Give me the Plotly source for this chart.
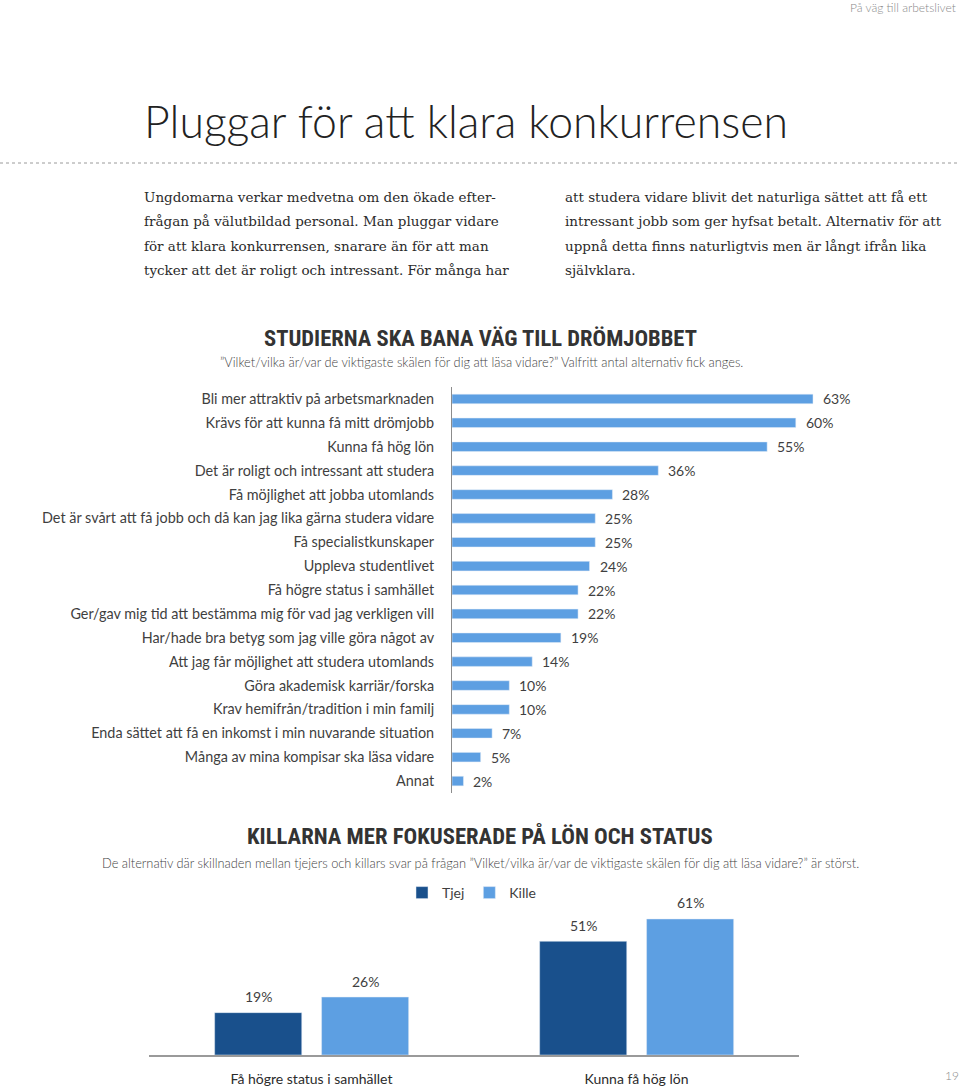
import plotly.graph_objects as go

# ---------------- data ----------------
reasons = [
    "Bli mer attraktiv på arbetsmarknaden",
    "Krävs för att kunna få mitt drömjobb",
    "Kunna få hög lön",
    "Det är roligt och intressant att studera",
    "Få möjlighet att jobba utomlands",
    "Det är svårt att få jobb och då kan jag lika gärna studera vidare",
    "Få specialistkunskaper",
    "Uppleva studentlivet",
    "Få högre status i samhället",
    "Ger/gav mig tid att bestämma mig för vad jag verkligen vill",
    "Har/hade bra betyg som jag ville göra något av",
    "Att jag får möjlighet att studera utomlands",
    "Göra akademisk karriär/forska",
    "Krav hemifrån/tradition i min familj",
    "Enda sättet att få en inkomst i min nuvarande situation",
    "Många av mina kompisar ska läsa vidare",
    "Annat",
]
reason_pct = [63, 60, 55, 36, 28, 25, 25, 24, 22, 22, 19, 14, 10, 10, 7, 5, 2]

gender_cats = ["Få högre status i samhället", "Kunna få hög lön"]
tjej_pct = [19, 51]
kille_pct = [26, 61]

left_par = [
    "Ungdomarna verkar medvetna om den ökade efter-",
    "frågan på välutbildad personal. Man pluggar vidare",
    "för att klara konkurrensen, snarare än för att man",
    "tycker att det är roligt och intressant. För många har",
]
right_par = [
    "att studera vidare blivit det naturliga sättet att få ett",
    "intressant jobb som ger hyfsat betalt. Alternativ för att",
    "uppnå detta finns naturligtvis men är långt ifrån lika",
    "självklara.",
]

# ---------------- style ----------------
W, H = 960, 1091
LIGHT = "#5d9fe2"
DARK = "#19508c"
TXT = "#3f3f3f"
SANS = "Lato, 'Open Sans', sans-serif"
SERIF = "'DejaVu Serif', 'Liberation Serif', serif"
COND = "'Roboto Condensed', 'Liberation Sans Narrow', Roboto, sans-serif"


def py(p):
    return 1 - p / H


def px(p):
    return p / W


fig = go.Figure()

# Chart 1: horizontal bars
fig.add_trace(go.Bar(
    x=reason_pct, y=reasons, orientation="h",
    marker_color=LIGHT, width=0.4, showlegend=False,
    xaxis="x", yaxis="y", hoverinfo="skip",
))

# Chart 2: grouped bars
fig.add_trace(go.Bar(
    x=gender_cats, y=tjej_pct, name="Tjej", marker_color=DARK,
    width=0.268, offset=-0.298, xaxis="x2", yaxis="y2",
))
fig.add_trace(go.Bar(
    x=gender_cats, y=kille_pct, name="Kille", marker_color=LIGHT,
    width=0.268, offset=0.031, xaxis="x2", yaxis="y2",
))

ann = []
# value labels chart 1
for r, v in zip(reasons, reason_pct):
    ann.append(dict(x=v, y=r, xref="x", yref="y", text=f"{v}%",
                    showarrow=False, xanchor="left", xshift=8,
                    font=dict(family=SANS, size=14, color=TXT)))
# value labels chart 2
for i, c in enumerate(gender_cats):
    for vals, off in ((tjej_pct, -0.164), (kille_pct, 0.165)):
        ann.append(dict(x=i + off, y=vals[i], xref="x2", yref="y2",
                        text=f"{vals[i]}%", showarrow=False,
                        yanchor="middle", yshift=16,
                        font=dict(family=SANS, size=14, color=TXT)))

# page texts
ann.append(dict(x=px(958), y=py(7), xref="paper", yref="paper",
                text="På väg till arbetslivet", showarrow=False,
                xanchor="right", yanchor="middle",
                font=dict(family=SANS, size=12, color="#8a8a8a", weight=300)))
ann.append(dict(x=px(142), y=py(121), xref="paper", yref="paper",
                text="Pluggar för att klara konkurrensen", showarrow=False,
                xanchor="left", yanchor="middle",
                font=dict(family=SANS, size=44.6, color="#222222", weight=300)))
for k, line in enumerate(left_par):
    ann.append(dict(x=px(142), y=py(197 + 24.3 * k), xref="paper", yref="paper",
                    text=line, showarrow=False, xanchor="left", yanchor="middle",
                    font=dict(family=SERIF, size=13.5, color="#2b2b2b")))
for k, line in enumerate(right_par):
    ann.append(dict(x=px(563), y=py(197 + 24.3 * k), xref="paper", yref="paper",
                    text=line, showarrow=False, xanchor="left", yanchor="middle",
                    font=dict(family=SERIF, size=13.5, color="#2b2b2b")))

ann.append(dict(x=px(480), y=py(338), xref="paper", yref="paper",
                text="<b>STUDIERNA SKA BANA VÄG TILL DRÖMJOBBET</b>", showarrow=False,
                xanchor="center", yanchor="middle",
                font=dict(family=COND, size=22.6, color="#333333")))
ann.append(dict(x=px(481), y=py(362), xref="paper", yref="paper",
                text="”Vilket/vilka är/var de viktigaste skälen för dig att läsa vidare?” Valfritt antal alternativ fick anges.",
                showarrow=False, xanchor="center", yanchor="middle",
                font=dict(family=SANS, size=12.8, color="#444444", weight=300)))
ann.append(dict(x=px(480), y=py(836), xref="paper", yref="paper",
                text="<b>KILLARNA MER FOKUSERADE PÅ LÖN OCH STATUS</b>", showarrow=False,
                xanchor="center", yanchor="middle",
                font=dict(family=COND, size=22.7, color="#333333")))
ann.append(dict(x=px(480), y=py(863), xref="paper", yref="paper",
                text="De alternativ där skillnaden mellan tjejers och killars svar på frågan ”Vilket/vilka är/var de viktigaste skälen för dig att läsa vidare?” är störst.",
                showarrow=False, xanchor="center", yanchor="middle",
                font=dict(family=SANS, size=12.8, color="#444444", weight=300)))
ann.append(dict(x=px(952), y=py(1075), xref="paper", yref="paper",
                text="19", showarrow=False, xanchor="center", yanchor="middle",
                font=dict(family=SANS, size=12, color="#8a8a8a", weight=300)))

shapes = [dict(type="line", xref="paper", yref="paper",
               x0=0, x1=1, y0=py(163), y1=py(163),
               line=dict(color="#9a9a9a", width=1, dash="dot"))]

fig.update_layout(
    width=W, height=H,
    margin=dict(l=0, r=0, t=0, b=0),
    paper_bgcolor="white", plot_bgcolor="white",
    barmode="group",
    showlegend=True,
    legend=dict(orientation="h", x=px(402), y=py(893), xanchor="left",
                yanchor="middle", font=dict(family=SANS, size=14, color=TXT),
                itemwidth=30, traceorder="normal", bgcolor="rgba(0,0,0,0)"),
    xaxis=dict(domain=[px(452), 1], range=[0, (W - 452) / 5.73],
               showgrid=False, zeroline=False, showticklabels=False,
               showline=False, fixedrange=True),
    yaxis=dict(domain=[py(793), py(387)], type="category",
               categoryorder="array", categoryarray=reasons,
               range=[16.5, -0.5], showgrid=False, zeroline=False,
               showline=True, linecolor="#8c8c8c", linewidth=1,
               ticks="outside", ticklen=14, tickcolor="rgba(0,0,0,0)",
               tickfont=dict(family=SANS, size=14.4, color=TXT)),
    xaxis2=dict(domain=[px(149), px(799)], range=[-0.5, 1.5], type="category",
                anchor="y2", showgrid=False, zeroline=False,
                showline=True, linecolor="#9a9a9a", linewidth=1.5,
                ticks="outside", ticklen=10, tickcolor="rgba(0,0,0,0)",
                tickfont=dict(family=SANS, size=14, color="#2b2b2b")),
    yaxis2=dict(domain=[py(1055), py(880)], range=[0, (1055 - 880) / 2.23],
                anchor="x2", showgrid=False, zeroline=False,
                showticklabels=False, showline=False),
    annotations=ann,
    shapes=shapes,
)

fig.write_html(
    "out.html",
    config={"displayModeBar": False},
    post_script="document.body.style.margin='0';document.body.style.overflow='hidden';",
)
